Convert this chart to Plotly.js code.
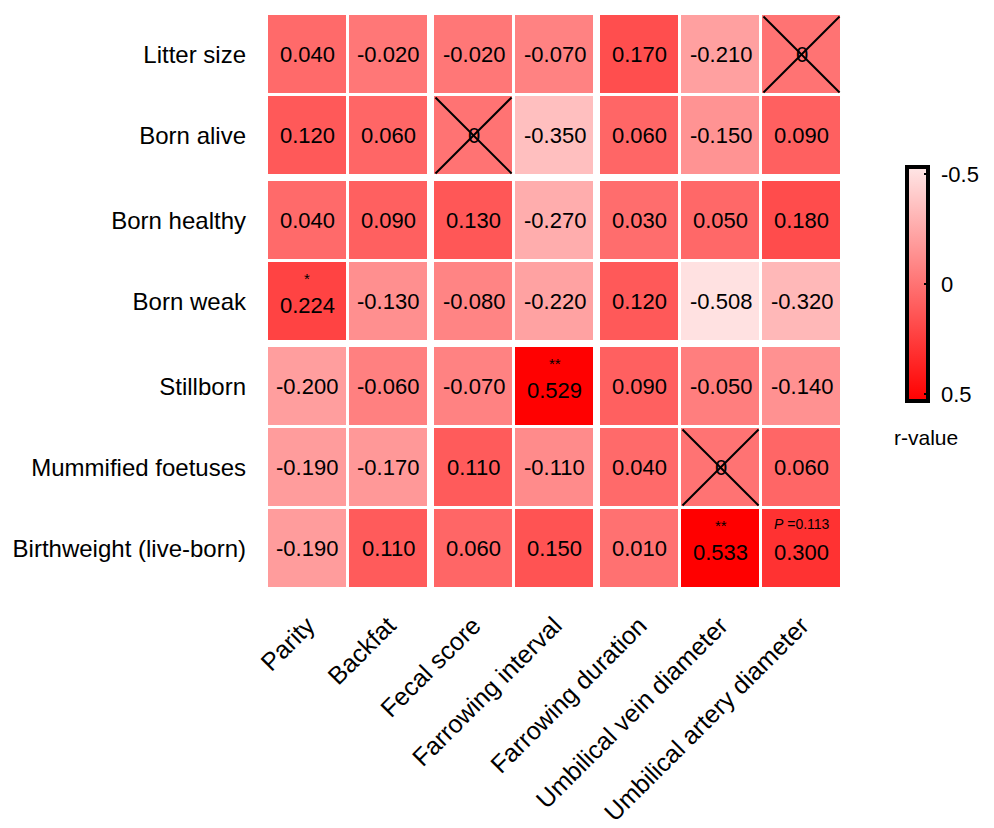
<!DOCTYPE html>
<html>
<head>
<meta charset="utf-8">
<script src="https://cdn.plot.ly/plotly-3.0.1.min.js"></script>
<style>html,body{margin:0;padding:0;background:#fff;}#chart{width:994px;height:828px;}</style>
</head>
<body>
<div id="chart"></div>
<script>
// ---- data ----
const rowLabels = ['Litter size','Born alive','Born healthy','Born weak','Stillborn','Mummified foetuses','Birthweight (live-born)'];
const colLabels = ['Parity','Backfat','Fecal score','Farrowing interval','Farrowing duration','Umbilical vein diameter','Umbilical artery diameter'];
const rowGroups = [2,2,3];
const colGroups = [2,2,3];

const litterSize      = [0.040, -0.020, -0.020, -0.070, 0.170, -0.210, 0];
const bornAlive       = [0.120,  0.060,  0,     -0.350, 0.060, -0.150, 0.090];
const bornHealthy     = [0.040,  0.090,  0.130, -0.270, 0.030,  0.050, 0.180];
const bornWeak        = [0.224, -0.130, -0.080, -0.220, 0.120, -0.508, -0.320];
const stillborn       = [-0.200,-0.060, -0.070,  0.529, 0.090, -0.050, -0.140];
const mummified       = [-0.190,-0.170,  0.110, -0.110, 0.040,  0,     0.060];
const birthweight     = [-0.190, 0.110,  0.060,  0.150, 0.010,  0.533, 0.300];
const values = [litterSize, bornAlive, bornHealthy, bornWeak, stillborn, mummified, birthweight];

// crossed-out cells [row, col]
const crossedCells = [[0,6],[1,2],[5,5]];
// significance notes [row, col, text]
const sigNotes = [[3,0,'*'],[4,3,'**'],[6,5,'**'],[6,6,'<i>P</i> =0.113']];

// colour bar ticks
const cbTickVals = [-0.5, 0, 0.5];
const cbTickText = ['0.5', '0', '-0.5'];

// ---- build bricks ----
function buildEdges(groups, gapW){
  const edges=[0], centers=[], isGap=[]; let p=0;
  groups.forEach((n,gi)=>{
    if(gi>0){ p+=gapW; edges.push(p); isGap.push(true); }
    for(let i=0;i<n;i++){ centers.push(p+0.5); p+=1; edges.push(p); isGap.push(false); }
  });
  return {edges, centers, isGap, total:p};
}
const GX = buildEdges(colGroups, 0.05);
const GY = buildEdges(rowGroups, 0.05);

const z = [];
let ri = 0;
GY.isGap.forEach(g=>{
  const row=[];
  if(g){ GX.isGap.forEach(()=>row.push(null)); }
  else {
    let ci=0;
    GX.isGap.forEach(gx=>{ if(gx) row.push(null); else { row.push(values[ri][ci]); ci++; } });
    ri++;
  }
  z.push(row);
});

let absMax = 0;
values.forEach(r=>r.forEach(v=>{ if(Math.abs(v)>absMax) absMax=Math.abs(v); }));

const FONT = 'Liberation Sans, Arial, sans-serif';
const lightEnd = '#ffe6e6', redEnd = '#ff0000';

const heat = {
  type:'heatmap', x:GX.edges, y:GY.edges, z:z,
  zmin:-absMax, zmax:absMax,
  colorscale:[[0,lightEnd],[1,redEnd]],
  showscale:false, xgap:3, ygap:3, hoverinfo:'skip'
};

// separate trace just to draw the colour bar with -0.5 at the top
const cbTrace = {
  type:'scatter', mode:'markers', x:[GX.centers[0]], y:[GY.centers[0]],
  hoverinfo:'skip', showlegend:false,
  marker:{size:1, opacity:0, color:[0], cmin:-absMax, cmax:absMax,
    colorscale:[[0,redEnd],[1,lightEnd]], showscale:true,
    colorbar:{
      x:1.113, xanchor:'left', xpad:0, y:0.530, yanchor:'middle', ypad:0,
      thickness:21, len:234, lenmode:'pixels',
      outlinewidth:4, outlinecolor:'#000',
      ticks:'inside', ticklen:6, tickwidth:2, tickcolor:'#000',
      tickvals:cbTickVals, ticktext:cbTickText.map(t=>'\u00a0'+t),
      tickfont:{family:FONT, size:22, color:'#000'}
    }}
};

const annotations = [];
const sigSet = {};
sigNotes.forEach(s=>{ sigSet[s[0]+'_'+s[1]] = s[2]; });
const crossSet = {};
crossedCells.forEach(c=>{ crossSet[c[0]+'_'+c[1]] = true; });

values.forEach((row,r)=>row.forEach((v,c)=>{
  const key=r+'_'+c;
  annotations.push({
    x:GX.centers[c], y:GY.centers[r], xref:'x', yref:'y', showarrow:false,
    text: crossSet[key] ? '0' : v.toFixed(3),
    yshift: sigSet[key] ? -4 : 0,
    font:{family:FONT, size:22, color:'#000'}
  });
}));
sigNotes.forEach(s=>{
  const isStar = s[2].indexOf('*')===0;
  annotations.push({
    x:GX.centers[s[1]], y:GY.centers[s[0]], xref:'x', yref:'y', showarrow:false,
    text:s[2], yshift: isStar ? 23 : 25,
    font:{family:FONT, size: isStar ? 15 : 14, color:'#000'}
  });
});
annotations.push({
  text:'r-value', xref:'paper', yref:'paper', x:1.146, y:0.264,
  xanchor:'center', yanchor:'middle', showarrow:false,
  font:{family:FONT, size:21, color:'#000'}
});

const shapes = [];
const ins = 0.03;
crossedCells.forEach(([r,c])=>{
  const x0=GX.centers[c]-0.5+ins, x1=GX.centers[c]+0.5-ins;
  const y0=GY.centers[r]-0.5+ins, y1=GY.centers[r]+0.5-ins;
  shapes.push({type:'line', xref:'x', yref:'y', x0:x0, y0:y0, x1:x1, y1:y1, line:{color:'#000', width:2}});
  shapes.push({type:'line', xref:'x', yref:'y', x0:x0, y0:y1, x1:x1, y1:y0, line:{color:'#000', width:2}});
});

const layout = {
  width:994, height:828,
  margin:{l:267, r:152, t:14, b:239, pad:0, autoexpand:false},
  paper_bgcolor:'#fff', plot_bgcolor:'#fff',
  font:{family:FONT, color:'#000'},
  xaxis:{range:[0,GX.total], showgrid:false, zeroline:false, showline:false, automargin:false,
    tickmode:'array', tickvals:GX.centers, ticktext:colLabels, tickangle:-45,
    ticks:'', ticklabelstandoff:16, tickfont:{family:FONT, size:25, color:'#000'}, fixedrange:true},
  yaxis:{range:[GY.total,0], showgrid:false, zeroline:false, showline:false, automargin:false,
    tickmode:'array', tickvals:GY.centers, ticktext:rowLabels,
    ticks:'', ticklabelstandoff:20, tickfont:{family:FONT, size:24, color:'#000'}, fixedrange:true},
  annotations:annotations, shapes:shapes, showlegend:false
};

Plotly.newPlot('chart',[heat, cbTrace],layout,{displayModeBar:false, staticPlot:true});
</script>
</body>
</html>
